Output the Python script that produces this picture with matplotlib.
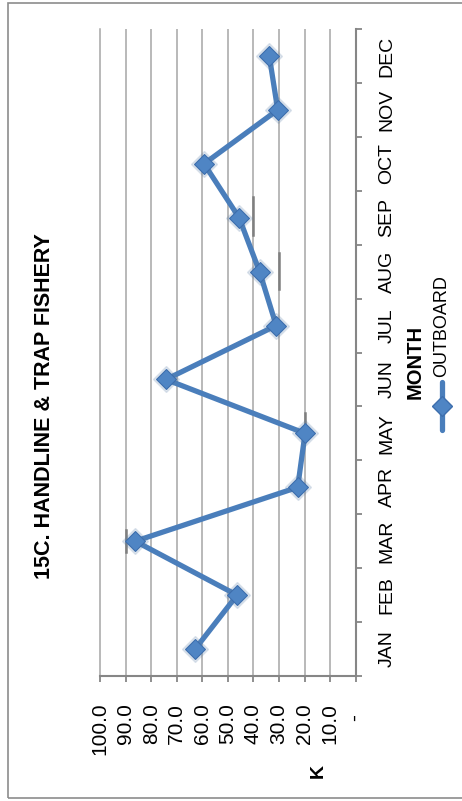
import matplotlib
matplotlib.use("Agg")
import matplotlib.pyplot as plt
from matplotlib.lines import Line2D
from matplotlib.patches import Rectangle

plt.rcParams['font.family'] = ['Liberation Sans', 'DejaVu Sans']

months = ["JAN", "FEB", "MAR", "APR", "MAY", "JUN", "JUL", "AUG", "SEP", "OCT", "NOV", "DEC"]
outboard = [62.8, 46.4, 86.2, 22.7, 19.8, 74.2, 31.1, 37.6, 45.6, 59.3, 30.5, 33.8]
value_ticks = [0, 10, 20, 30, 40, 50, 60, 70, 80, 90, 100]
value_labels = ["-  ", "10.0", "20.0", "30.0", "40.0", "50.0", "60.0", "70.0", "80.0", "90.0", "100.0"]
# darker bits of gridline seen next to some points: (value, from month pos, to month pos)
dark_bits = [(90, 1.80, 2.21), (20, 3.88, 4.38), (30, 6.68, 7.35), (40, 7.68, 8.39)]

blue = '#4A7EBB'
grid_c = '#a6a6a6'
axis_c = '#868686'

fig = plt.figure(figsize=(4.62, 8.01), dpi=100)
fig.patches.append(Rectangle((8 / 462, 3 / 801), 1.2, 795 / 801, transform=fig.transFigure,
                             fill=False, edgecolor='#8c8c8c', lw=1.2))

ax = fig.add_axes([100 / 462, 125 / 801, 255.7 / 462, 647 / 801])
pos = list(range(len(months)))

# chart is drawn turned on its side: values run right to left, months bottom to top
ax.set_xlim(100, 0)
ax.set_ylim(-0.5, 11.5)

for v in value_ticks[1:-1]:
    ax.axvline(v, color=grid_c, lw=1.1, zorder=1)
for v, a, b in dark_bits:
    ax.plot([v, v], [a, b], color='#7f7f7f', lw=1.8, zorder=2)

ax.plot(outboard, pos, color=blue, lw=3.8, zorder=3, solid_capstyle='round')
ax.plot(outboard, pos, linestyle='none', marker='D', markersize=13, color='#5b7fa8', alpha=0.18, zorder=4)
ax.plot(outboard, pos, linestyle='none', marker='D', markersize=10, markerfacecolor='#4F85C4',
        markeredgecolor='#3d6ead', markeredgewidth=0.8, zorder=5)

ax.spines['top'].set_visible(False)
ax.spines['left'].set_color(grid_c)
ax.spines['left'].set_linewidth(1.1)
ax.spines['bottom'].set_color(axis_c)
ax.spines['bottom'].set_linewidth(1.5)
ax.spines['right'].set_color(axis_c)
ax.spines['right'].set_linewidth(1.5)

ax.set_xticks(value_ticks)
ax.set_xticklabels(value_labels, rotation=90, fontsize=15)
ax.tick_params(axis='x', direction='out', length=4.3, width=1.3, color=axis_c, pad=15)

ax.yaxis.tick_right()
ax.set_yticks(pos)
ax.set_yticklabels(months, rotation=90, fontsize=14, va='center')
ax.set_yticks([p - 0.5 for p in pos] + [11.5], minor=True)
ax.tick_params(axis='y', which='major', length=0, pad=16.5)
ax.tick_params(axis='y', which='minor', direction='out', length=4.3, width=1.3, color=axis_c)
ax.tick_params(axis='y', which='minor', left=False, right=True)

fig.text(45 / 462, 1 - 406 / 801, "15C. HANDLINE & TRAP FISHERY", rotation=90,
         fontsize=15.5, fontweight='bold', ha='center', va='center')
fig.text(415 / 462, 1 - 362 / 801, "MONTH", rotation=90, fontsize=14.5, fontweight='bold',
         ha='center', va='center')
fig.text(318 / 462, 1 - 771 / 801, "K", rotation=90, fontsize=14, fontweight='bold',
         ha='center', va='center')

# legend, also on its side
fig.add_artist(Line2D([442 / 462, 442 / 462], [1 - 430 / 801, 1 - 382 / 801],
                      transform=fig.transFigure, color=blue, lw=3.8, solid_capstyle='round'))
fig.add_artist(Line2D([442 / 462], [1 - 406 / 801], transform=fig.transFigure, marker='D',
                      markersize=10, markerfacecolor='#4F85C4', markeredgecolor='#3d6ead',
                      linestyle='none'))
fig.text(442 / 462, 1 - 377 / 801, "OUTBOARD", rotation=90, fontsize=13, ha='center', va='bottom')

fig.savefig("out.png", dpi=100)
